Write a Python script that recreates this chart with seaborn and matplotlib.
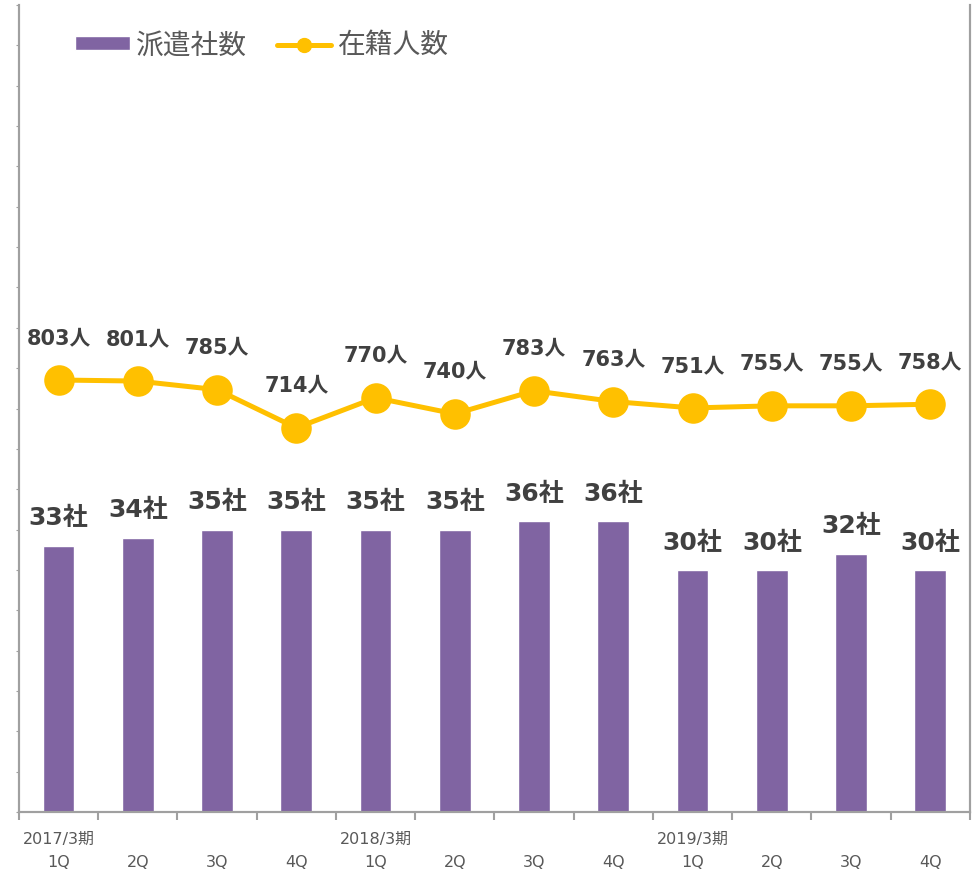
import matplotlib.pyplot as plt
import numpy as np
import pandas as pd
import seaborn as sns
from matplotlib.lines import Line2D
from matplotlib.patches import Patch

# quarterly data: 派遣社数 (bars, left axis) / 在籍人数 (line, right axis)
periods = ["2017/3期", "", "", "", "2018/3期", "", "", "", "2019/3期", "", "", ""]
quarters = ["1Q", "2Q", "3Q", "4Q"] * 3
companies = [33, 34, 35, 35, 35, 35, 36, 36, 30, 30, 32, 30]
staff = [803, 801, 785, 714, 770, 740, 783, 763, 751, 755, 755, 758]

bar_color = "#8064A2"
line_color = "#FFC000"
text_color = "#404040"
tick_color = "#595959"
spine_color = "#A0A0A0"

sns.set_style("white")
plt.rcParams["font.family"] = ["DejaVu Sans", "Noto Sans CJK JP"]

labels = [f"{p}\n{q}" for p, q in zip(periods, quarters)]
df = pd.DataFrame({"pos": np.arange(len(labels)),
                   "companies": companies, "staff": staff})

fig = plt.figure(figsize=(9.77, 8.74), dpi=100)
ax = fig.add_axes([0.0194, 0.0709, 0.9734, 0.9234])

sns.barplot(data=df, x="pos", y="companies", color=bar_color, width=0.4,
            saturation=1, errorbar=None, ax=ax)
ax.bar_label(ax.containers[0], fmt="{:.0f}社", padding=11, fontsize=18,
             fontweight="bold", color=text_color)
ax.set_ylim(0, 100)
ax.set_xlim(-0.5, len(labels) - 0.5)

ax2 = ax.twinx()
sns.lineplot(data=df, x="pos", y="staff", color=line_color, linewidth=3.6,
             marker="o", markersize=22, markeredgewidth=0, ax=ax2)
for x, y in zip(df["pos"], df["staff"]):
    ax2.annotate(f"{y}人", (x, y), xytext=(0, 26), textcoords="offset points",
                 ha="center", va="baseline", fontsize=15, fontweight="bold",
                 color=text_color)
ax2.set_ylim(0, 1500)
ax2.set_xlim(-0.5, len(labels) - 0.5)

# axes styling
for a in (ax, ax2):
    a.set_xlabel("")
    a.set_ylabel("")
    a.spines["top"].set_visible(False)
    for s in ("left", "right", "bottom"):
        a.spines[s].set_color(spine_color)
        a.spines[s].set_linewidth(1.5)
ax2.set_yticks([])
ax.set_yticks(np.arange(0, 101, 5))
ax.set_yticklabels([])
ax.tick_params(axis="y", length=2, color=spine_color, left=True)

ax.set_xticks(np.arange(len(labels)))
ax.set_xticklabels(labels, fontsize=11.5, color=tick_color, linespacing=1.75)
ax.set_xticks(np.arange(-0.5, len(labels)), minor=True)
ax.tick_params(axis="x", which="major", length=0, pad=14)
ax.tick_params(axis="x", which="minor", length=6, width=1.5, color=spine_color,
               bottom=True)

handles = [Patch(facecolor=bar_color, label="派遣社数"),
           Line2D([], [], color=line_color, linewidth=3.6, marker="o",
                  markersize=10, label="在籍人数")]
leg = ax.legend(handles=handles, loc="center left", bbox_to_anchor=(0.033, 0.95),
                ncol=2, frameon=False, fontsize=20, handlelength=1.95,
                handleheight=0.4, handletextpad=0.25, columnspacing=1.05)
for t in leg.get_texts():
    t.set_color(tick_color)
ax2.set_zorder(ax.get_zorder() + 1)
ax2.patch.set_visible(False)
ax.legend_.set_zorder(5)

fig.savefig("out.png", dpi=100)
